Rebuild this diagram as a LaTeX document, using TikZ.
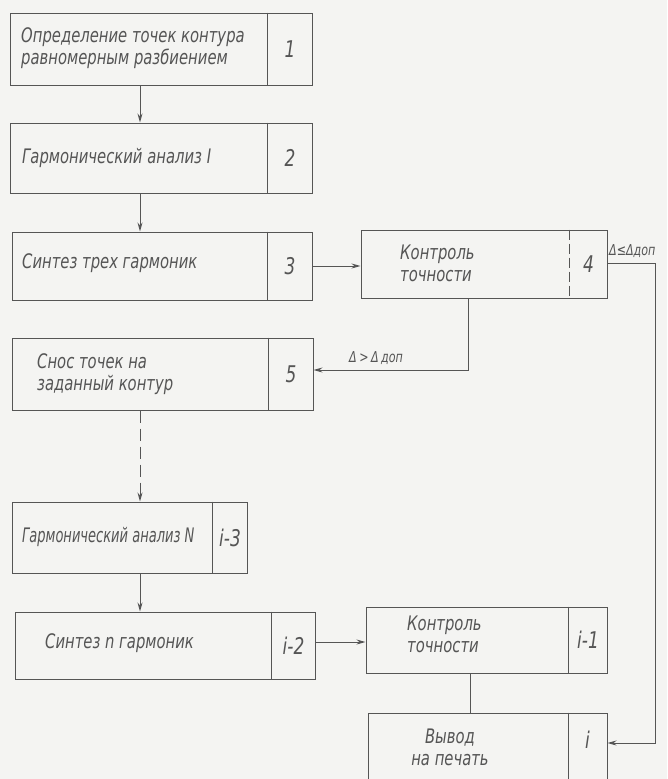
\documentclass[tikz,border=0pt]{standalone}
\usepackage{fontspec}
\newfontfamily\hand{DejaVu Sans}[FakeStretch=0.74]
\usetikzlibrary{arrows.meta}
\definecolor{ink}{HTML}{555555}
\definecolor{paper}{HTML}{F4F4F2}
\newcommand\blok[8]{%
  \node[blk, minimum width=#4pt, minimum height=#5pt] (#1) at (#2,#3) {};
  \draw[ln,#8] ([xshift=-#6pt]#1.north east) -- ([xshift=-#6pt]#1.south east);
  \node[num] (#1n) at ([xshift=-#6pt/2]#1.east) {#7};}
\begin{document}
\begin{tikzpicture}[x=1pt,y=-1pt,
  blk/.style={draw=ink, line width=1pt, rectangle, inner sep=0pt},
  ln/.style={draw=ink, line width=1pt},
  arr/.style={draw=ink, line width=1pt, -{Stealth[length=9pt,width=5pt]}},
  txt/.style={text=ink, inner sep=0pt, font=\hand\itshape\fontsize{20}{22}\selectfont, align=left, anchor=west},
  num/.style={text=ink, inner sep=0pt, font=\hand\itshape\fontsize{23}{24}\selectfont},
  lab/.style={text=ink, inner sep=0pt, font=\hand\itshape\fontsize{15}{16}\selectfont}]
\fill[paper] (0,0) rectangle (667,779);
\useasboundingbox (0,0) rectangle (667,779);
\clip (0,0) rectangle (667,779);
% boxes
\blok{b1}{161}{49}{302}{72}{45}{1}{}
\blok{b2}{161}{158}{302}{70}{45}{2}{}
\blok{b3}{162}{266}{300}{68}{45}{3}{}
\blok{b4}{484}{264}{246}{68}{38}{4}{dash pattern=on 10pt off 4pt}
\blok{b5}{162.5}{374}{301}{72}{45}{5}{}
\blok{c3}{129.5}{537.5}{235}{71}{35}{i-3}{}
\blok{c2}{165}{645.5}{300}{67}{44}{i-2}{}
\blok{c1}{486.5}{640}{241}{66}{39}{i-1}{}
\blok{c0}{487.5}{751.5}{239}{77}{39}{}{}
\node[num] (c0m) at (587.5,740) {i};
% texts
\node[txt] (t1) at (21,48) {Определение точек контура\\равномерным разбиением};
\node[txt] (t2) at (22,158) {Гармонический анализ I};
\node[txt] (t3) at (22,263) {Синтез трех гармоник};
\node[txt] (t4) at (400,263) {Контроль\\точности};
\node[txt] (t5) at (37,374) {Снос точек на\\заданный контур};
\node[txt] (t6) at (22,537) {\scalebox{0.88}[1]{Гармонический анализ N}};
\node[txt] (t7) at (45,643) {Синтез n гармоник};
\node[txt] (t8) at (407,634) {Контроль\\точности};
\node[txt, align=center, anchor=center] (t9) at (450,747) {Вывод\\на печать};
% helper coordinates
\coordinate (vx) at (140,0);
\coordinate (dx) at (468,0);
\coordinate (ex) at (470,0);
\coordinate (r1) at (655,263);
\coordinate (r2) at (655,743);
\coordinate (h1) at (0,370);
\coordinate (h2) at (0,642);
% connectors
\draw[arr] (b1.south -| vx) -- (b2.north -| vx);
\draw[arr] (b2.south -| vx) -- (b3.north -| vx);
\draw[arr] (b3.east) -- (b3.east -| b4.west);
\draw[arr] (b4.south -| dx) -- (h1 -| dx) -- (h1 -| b5.east);
\node[lab, anchor=south west] (l1) at (349,365) {Δ\,>\,Δ\,доп};
\draw[arr] (b4.east |- r1) -- (r1) -- (r2) -- (r2 -| c0.east);
\node[lab, anchor=south west] (l2) at (609,258) {Δ≤Δдоп};
\draw[arr, dash pattern=on 12pt off 6pt] (b5.south -| vx) -- (c3.north -| vx);
\draw[arr] (c3.south -| vx) -- (c2.north -| vx);
\draw[arr] (c2.east |- h2) -- (h2 -| c1.west);
\draw[ln] (c1.south -| ex) -- (c0.north -| ex);
\end{tikzpicture}
\end{document}
